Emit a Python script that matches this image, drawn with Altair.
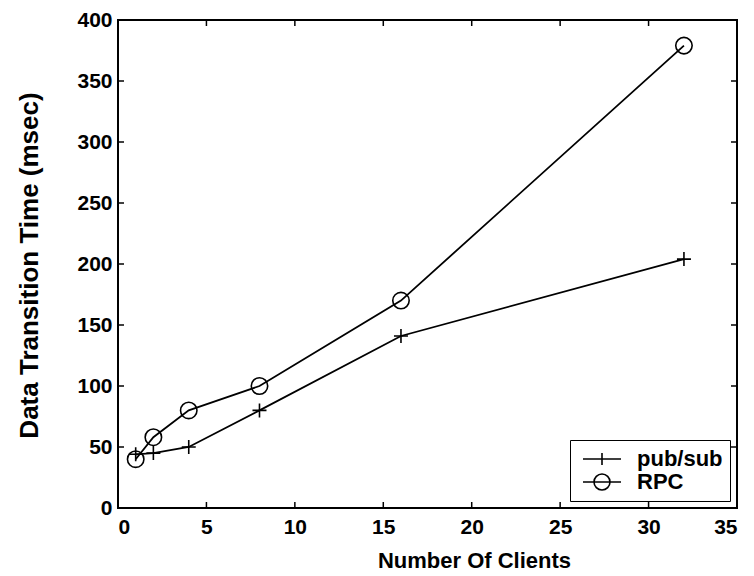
import altair as alt
import pandas as pd

clients = [1, 2, 4, 8, 16, 32]
pubsub = [44, 45, 50, 80, 141, 204]
rpc = [40, 58, 80, 100, 170, 379]
series_names = ["pub/sub", "RPC"]
x_ticks = [0, 5, 10, 15, 20, 25, 30, 35]
y_ticks = [0, 50, 100, 150, 200, 250, 300, 350, 400]

df = pd.DataFrame({
    "clients": clients + clients,
    "time": pubsub + rpc,
    "series": [series_names[0]] * len(clients) + [series_names[1]] * len(clients),
})
xt = pd.DataFrame({"clients": x_ticks})
yt = pd.DataFrame({"time": y_ticks})

W, H = 619, 488
TK = 6
FONT = "Liberation Sans"
PLUS = "M-1,0L1,0M0,-1L0,1"
LEG_PLUS = "M-1.727,0L1.727,0M0,-0.545L0,0.545"
LEG_CIRC = ("M-1.727,0L1.727,0M0.727,0A0.727,0.727 0 1,1 -0.727,0"
            "A0.727,0.727 0 1,1 0.727,0")

xs = alt.Scale(domain=[0, 35], nice=False, zero=False)
ys = alt.Scale(domain=[0, 400], nice=False)

x_axis = alt.Axis(
    values=x_ticks, ticks=False, domain=False, grid=False,
    labelPadding=8, title="Number Of Clients",
    titleX=356, titleY=52, titleBaseline="middle", titleAlign="center")
y_axis = alt.Axis(
    values=y_ticks, ticks=False, domain=False, grid=False,
    labelPadding=6, title="Data Transition Time (msec)", titleFontSize=26,
    titleX=-89, titleY=H / 2 + 1, titleBaseline="middle", titleAlign="center",
    titleAngle=270)

x_main = alt.X("clients:Q", scale=xs, axis=x_axis)
y_main = alt.Y("time:Q", scale=ys, axis=y_axis)

base = alt.Chart(df)

lines = base.mark_line(color="black", strokeWidth=1.8).encode(
    x=x_main, y=y_main, detail="series:N")

pts_pub = base.transform_filter(alt.datum.series == series_names[0]).mark_point(
    shape=PLUS, size=196, color="black", filled=False, strokeWidth=1.6, opacity=1
).encode(x=x_main, y=y_main)

pts_rpc = base.transform_filter(alt.datum.series == series_names[1]).mark_point(
    shape="circle", size=270, color="black", filled=False, strokeWidth=1.6, opacity=1
).encode(x=x_main, y=y_main)

# inward tick marks on all four sides, placed through the scales
tick_style = dict(color="black", strokeWidth=1.5)
t_bottom = alt.Chart(xt).mark_rule(**tick_style).encode(x=x_main, y=alt.value(H), y2=alt.value(H - TK))
t_top = alt.Chart(xt).mark_rule(**tick_style).encode(x=x_main, y=alt.value(0), y2=alt.value(TK))
t_left = alt.Chart(yt).mark_rule(**tick_style).encode(y=y_main, x=alt.value(0), x2=alt.value(TK))
t_right = alt.Chart(yt).mark_rule(**tick_style).encode(y=y_main, x=alt.value(W), x2=alt.value(W - TK))

legend_layer = base.transform_filter("false").mark_point(
    filled=False, size=484, strokeWidth=1.6, color="black", opacity=1
).encode(
    x=x_main, y=y_main,
    shape=alt.Shape("series:N",
                    scale=alt.Scale(domain=series_names, range=[LEG_PLUS, LEG_CIRC]),
                    legend=alt.Legend(
                        title=None, orient="bottom-right", offset=7,
                        strokeColor="black", fillColor="white", padding=7,
                        labelFont=FONT, labelFontSize=22, labelFontWeight="bold",
                        labelColor="black", labelOffset=23, symbolOffset=13,
                        symbolSize=484, symbolStrokeWidth=1.6,
                        symbolStrokeColor="black", symbolFillColor="transparent",
                        rowPadding=0, cornerRadius=0)),
)

chart = alt.layer(
    lines, pts_pub, pts_rpc, t_bottom, t_top, t_left, t_right, legend_layer
).properties(
    width=W, height=H, autosize="none",
    padding={"left": 110, "top": 12, "right": 9, "bottom": 64},
    background="white",
).configure_view(
    stroke="black", strokeWidth=2
).configure_axis(
    labelFont=FONT, labelFontSize=21, labelFontWeight="bold", labelColor="black",
    titleFont=FONT, titleFontSize=22, titleFontWeight="bold", titleColor="black",
)

chart.save("out.html", embed_options={"renderer": "svg", "actions": False})
